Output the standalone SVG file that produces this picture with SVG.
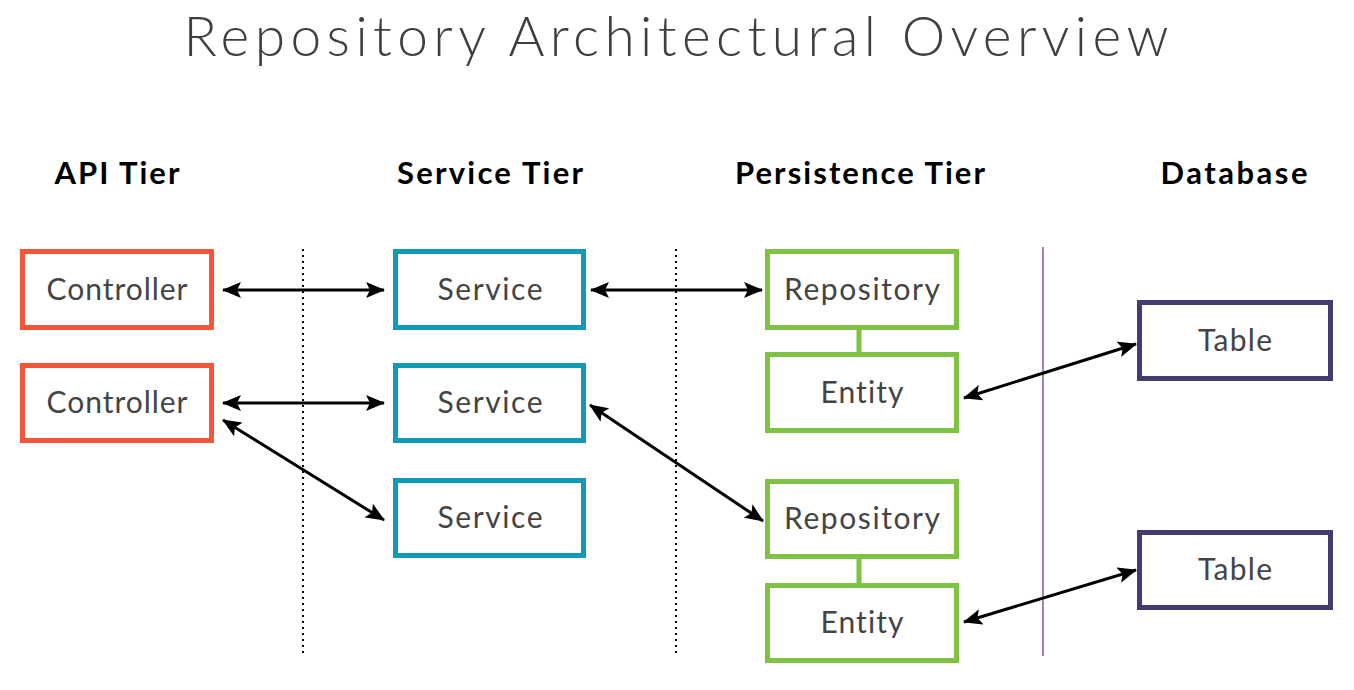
<svg xmlns="http://www.w3.org/2000/svg" width="1354" height="690" viewBox="0 0 1354 690">
<style>
text{font-variant-ligatures:none}
.title{font-family:"Lato","Noto Sans",sans-serif;font-weight:300;font-size:55px;fill:#3f3f3f}
.hdr{font-family:"Lato","Noto Sans",sans-serif;font-weight:700;font-size:31px;fill:#000}
.lbl{font-family:"Lato","Noto Sans",sans-serif;font-weight:400;font-size:30px;fill:#444}
.box{fill:#fff;stroke-width:5}
.api{stroke:#F4563B}
.svc{stroke:#0F9AB5}
.per{stroke:#7DC242}
.db{stroke:#463B70}
.arr{stroke:#000;stroke-width:3;fill:none;marker-start:url(#ah);marker-end:url(#ah)}
.dot{stroke:#000;stroke-width:2;stroke-dasharray:2 4}
</style>
<defs>
<marker id="ah" markerUnits="userSpaceOnUse" markerWidth="20" markerHeight="16" refX="18" refY="8" orient="auto-start-reverse" viewBox="0 0 20 16">
<path d="M0,0 L19,8 L0,16 L4,8 Z" fill="#000"/>
</marker>
</defs>
<rect width="1354" height="690" fill="#fff"/>
<text class="title" x="676" y="56" text-anchor="middle" textLength="985" lengthAdjust="spacing">Repository Architectural Overview</text>
<g id="headers">
<text class="hdr" x="117" y="184" text-anchor="middle" textLength="125" lengthAdjust="spacing">API Tier</text>
<text class="hdr" x="490" y="184" text-anchor="middle" textLength="186" lengthAdjust="spacing">Service Tier</text>
<text class="hdr" x="860" y="184" text-anchor="middle" textLength="250" lengthAdjust="spacing">Persistence Tier</text>
<text class="hdr" x="1234" y="184" text-anchor="middle" textLength="147" lengthAdjust="spacing">Database</text>
</g>
<g id="dividers">
<line class="dot" x1="303" y1="249" x2="303" y2="656"/>
<line class="dot" x1="676" y1="249" x2="676" y2="656"/>
<line x1="1043" y1="247" x2="1043" y2="656" stroke="#8B55C0" stroke-width="1.5"/>
</g>
<g id="controller1"><rect class="box api" x="22.5" y="251.5" width="189" height="76"/><text class="lbl" x="117" y="300" text-anchor="middle" textLength="141" lengthAdjust="spacing">Controller</text></g>
<g id="controller2"><rect class="box api" x="22.5" y="365.5" width="189" height="75"/><text class="lbl" x="117" y="413" text-anchor="middle" textLength="141" lengthAdjust="spacing">Controller</text></g>
<g id="service1"><rect class="box svc" x="395.5" y="251.5" width="188" height="76"/><text class="lbl" x="490" y="300" text-anchor="middle" textLength="105" lengthAdjust="spacing">Service</text></g>
<g id="service2"><rect class="box svc" x="395.5" y="365.5" width="188" height="75"/><text class="lbl" x="490" y="413" text-anchor="middle" textLength="105" lengthAdjust="spacing">Service</text></g>
<g id="service3"><rect class="box svc" x="395.5" y="480.5" width="188" height="75"/><text class="lbl" x="490" y="528" text-anchor="middle" textLength="105" lengthAdjust="spacing">Service</text></g>
<g id="repository1"><rect class="box per" x="767.5" y="251.5" width="189" height="76"/><text class="lbl" x="862" y="300" text-anchor="middle" textLength="156" lengthAdjust="spacing">Repository</text></g>
<g id="entity1"><rect class="box per" x="767.5" y="354.5" width="189" height="76"/><text class="lbl" x="862" y="403" text-anchor="middle" textLength="83" lengthAdjust="spacing">Entity</text></g>
<g id="repository2"><rect class="box per" x="767.5" y="481.5" width="189" height="75"/><text class="lbl" x="862" y="529" text-anchor="middle" textLength="156" lengthAdjust="spacing">Repository</text></g>
<g id="entity2"><rect class="box per" x="767.5" y="585.5" width="189" height="75"/><text class="lbl" x="862" y="633" text-anchor="middle" textLength="83" lengthAdjust="spacing">Entity</text></g>
<g id="table1"><rect class="box db" x="1139.5" y="302.5" width="191" height="76"/><text class="lbl" x="1235" y="351" text-anchor="middle" textLength="74" lengthAdjust="spacing">Table</text></g>
<g id="table2"><rect class="box db" x="1139.5" y="532.5" width="191" height="75"/><text class="lbl" x="1235" y="580" text-anchor="middle" textLength="74" lengthAdjust="spacing">Table</text></g>
<g id="connectors">
<line x1="859" y1="330" x2="859" y2="352" stroke="#7DC242" stroke-width="5"/>
<line x1="859" y1="559" x2="859" y2="583" stroke="#7DC242" stroke-width="5"/>
<line class="arr" x1="223" y1="290" x2="384" y2="290"/>
<line class="arr" x1="591" y1="290" x2="762" y2="290"/>
<line class="arr" x1="223" y1="403" x2="384" y2="403"/>
<line class="arr" x1="223" y1="420" x2="384" y2="520"/>
<line class="arr" x1="590" y1="405" x2="763" y2="521"/>
<line class="arr" x1="964" y1="398" x2="1136" y2="344"/>
<line class="arr" x1="964" y1="622" x2="1136" y2="570"/>
</g>
</svg>
